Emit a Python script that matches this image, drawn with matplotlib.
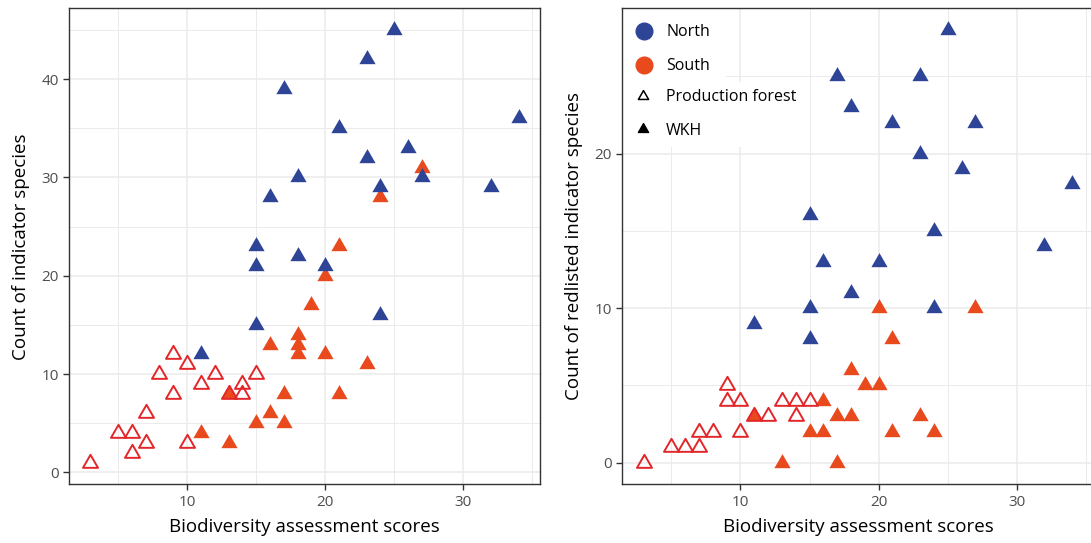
import matplotlib
matplotlib.use("Agg")
import matplotlib.pyplot as plt
from matplotlib.path import Path
from matplotlib.lines import Line2D

# ---------------- data ----------------
left_north_x = [25, 23, 17, 34, 21, 26, 23, 27, 24, 32, 18, 16, 15, 18, 15, 20, 24, 15, 11]
left_north_y = [45, 42, 39, 36, 35, 33, 32, 30, 29, 29, 30, 28, 23, 22, 21, 21, 16, 15, 12]
left_south_wkh_x = [27, 24, 21, 20, 19, 18, 18, 18, 16, 20, 23, 17, 21, 13, 16, 15, 17, 11, 13]
left_south_wkh_y = [31, 28, 23, 20, 17, 14, 13, 12, 13, 12, 11, 8, 8, 8, 6, 5, 5, 4, 3]
left_prod_x = [9, 10, 8, 12, 15, 11, 14, 9, 14, 13, 7, 5, 6, 7, 10, 6, 3]
left_prod_y = [12, 11, 10, 10, 10, 9, 9, 8, 8, 8, 6, 4, 4, 3, 3, 2, 1]

right_north_x = [25, 17, 23, 18, 21, 27, 23, 26, 34, 15, 24, 32, 16, 20, 18, 15, 24, 11, 15]
right_north_y = [28, 25, 25, 23, 22, 22, 20, 19, 18, 16, 15, 14, 13, 13, 11, 10, 10, 9, 8]
right_south_wkh_x = [20, 27, 21, 18, 19, 20, 16, 17, 18, 23, 11, 15, 16, 21, 24, 13, 17]
right_south_wkh_y = [10, 10, 8, 6, 5, 5, 4, 3, 3, 3, 3, 2, 2, 2, 2, 0, 0]
right_prod_x = [9, 9, 10, 13, 14, 15, 11, 12, 14, 7, 8, 10, 5, 6, 7, 3]
right_prod_y = [5, 4, 4, 4, 4, 4, 3, 3, 3, 2, 2, 2, 1, 1, 1, 0]

x_label = "Biodiversity assessment scores"
left_ylabel = "Count of indicator species"
right_ylabel = "Count of redlisted indicator species"
legend_labels = ["North", "South", "Production forest", "WKH"]

# ---------------- style ----------------
plt.rcParams['font.family'] = ['Open Sans', 'DejaVu Sans']
C_NORTH = "#2E4597"
C_SOUTH = "#E84A1E"
C_PROD = "#E3262A"
GRID = "#EBEBEB"
TICKC = "#4D4D4D"

tri = Path([(-1.0, -0.577), (1.0, -0.577), (0.0, 1.155), (-1.0, -0.577)],
           [Path.MOVETO, Path.LINETO, Path.LINETO, Path.CLOSEPOLY])

W, H = 1091, 543
fig = plt.figure(figsize=(W / 100, H / 100), dpi=100)

ax_b = 484.3
ax_t = 8.3
AXH_PX = ax_b - ax_t
ax_h = AXH_PX / H
ax_y0 = (H - ax_b) / H
axL = fig.add_axes([69 / W, ax_y0, 471 / W, ax_h])
axR = fig.add_axes([622.3 / W, ax_y0, 471.2 / W, ax_h])

MS = 13.5
LBL_FS = 13.5
TICK_FS = 11
LEG_FS = 11.5


def draw(ax, nx, ny, sx, sy, px, py, ylim, yticks, yminor, ylabel):
    ax.plot(sx, sy, linestyle="none", marker=tri, ms=MS, color=C_SOUTH,
            markeredgewidth=0, zorder=3)
    ax.plot(px, py, linestyle="none", marker=tri, ms=MS - 1, markerfacecolor="none",
            markeredgecolor=C_PROD, markeredgewidth=1.4, zorder=4)
    ax.plot(nx, ny, linestyle="none", marker=tri, ms=MS, color=C_NORTH,
            markeredgewidth=0, zorder=5)
    ax.set_xlim(1.45, 35.55)
    ax.set_ylim(*ylim)
    ax.set_xticks([10, 20, 30])
    ax.set_xticks([5, 15, 25, 35], minor=True)
    ax.set_yticks(yticks)
    ax.set_yticks(yminor, minor=True)
    ax.set_axisbelow(True)
    ax.grid(which="major", color=GRID, linewidth=1.1)
    ax.grid(which="minor", color=GRID, linewidth=0.7)
    ax.tick_params(which="major", direction="out", length=4.5, width=1,
                   color="#333333", labelsize=TICK_FS, labelcolor=TICKC, pad=3)
    ax.tick_params(which="minor", length=0)
    for s in ax.spines.values():
        s.set_color("#333333")
        s.set_linewidth(1.0)
    ax.set_xlabel(x_label, fontsize=LBL_FS, color="black", labelpad=6)
    ax.set_ylabel(ylabel, fontsize=LBL_FS, color="black", labelpad=8)


draw(axL, left_north_x, left_north_y, left_south_wkh_x, left_south_wkh_y,
     left_prod_x, left_prod_y, (-1.2, 47.2), [0, 10, 20, 30, 40],
     [5, 15, 25, 35, 45], left_ylabel)
draw(axR, right_north_x, right_north_y, right_south_wkh_x, right_south_wkh_y,
     right_prod_x, right_prod_y, (-1.4, 29.4), [0, 10, 20],
     [5, 15, 25], right_ylabel)

# legends (two stacked boxes like ggplot)
h1 = [Line2D([], [], linestyle="none", marker="o", ms=12, color=C_NORTH),
      Line2D([], [], linestyle="none", marker="o", ms=12, color=C_SOUTH)]
h2 = [Line2D([], [], linestyle="none", marker=tri, ms=8.5, markerfacecolor="none",
             markeredgecolor="black", markeredgewidth=1.1),
      Line2D([], [], linestyle="none", marker=tri, ms=8.5, color="black")]
leg1 = axR.legend(h1, legend_labels[:2], loc="upper left", bbox_to_anchor=(0.0, 1.0),
                  frameon=True, facecolor="white", edgecolor="none", framealpha=1,
                  fancybox=False, fontsize=LEG_FS, handlelength=0.78, handletextpad=0.98,
                  labelspacing=1.13, borderpad=0.99, borderaxespad=0)
axR.add_artist(leg1)
leg2 = axR.legend(h2, legend_labels[2:], loc="upper left",
                  bbox_to_anchor=(0.0, 1 - (81.5 - ax_t) / AXH_PX),
                  frameon=True, facecolor="white", edgecolor="none", framealpha=1,
                  fancybox=False, fontsize=LEG_FS, handlelength=1.6, handletextpad=0.65,
                  labelspacing=1.09, borderpad=0.5, borderaxespad=0)
leg1.set_zorder(2.4)
leg2.set_zorder(2.4)

fig.savefig("out.png", dpi=100)
